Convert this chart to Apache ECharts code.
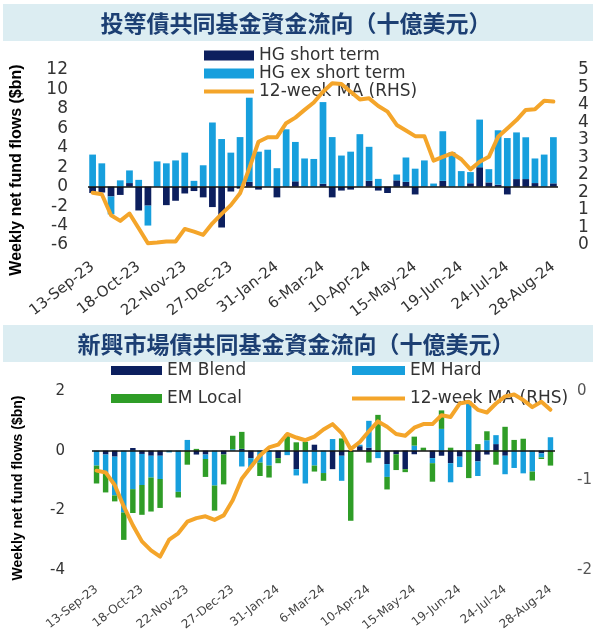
<!DOCTYPE html>
<html><head><meta charset="utf-8">
<script src="https://cdn.jsdelivr.net/npm/echarts@6/dist/echarts.min.js"></script>
<style>html,body{margin:0;padding:0;background:#fff}#c{width:606px;height:640px}</style>
</head><body><div id="c"></div>
<script>
// ---- data ----
const title1 = '投等債共同基金資金流向（十億美元）';
const title2 = '新興市場債共同基金資金流向（十億美元）';
const yName = 'Weekly net fund flows ($bn)';
const startWeek = '2023-09-13';
const weekCount = 51;

const hgShort = [-0.65,-0.6,-1.0,-0.85,0.37,-2.45,-1.95,0,-1.9,-1.45,-0.7,-0.45,-1.1,-2.1,-4.2,-0.5,-0.2,0.5,-0.3,0,-1.1,0,0.55,0,0,0.3,-1.1,-0.4,-0.3,0,0.6,-0.4,-0.65,0.65,0.5,-0.8,0,0,0.6,0,0,0.35,2.0,0.44,0.2,-0.8,0.78,0.78,0.37,0,0.34];
const hgEx = [3.3,2.4,-1.85,0.65,1.3,0.7,-2.05,2.6,2.4,2.7,3.5,0.6,2.2,6.6,4.9,3.5,5.1,8.65,3.6,3.8,1.9,5.9,4.05,2.9,2.85,8.4,5.1,3.2,3.6,5.4,3.5,0.8,0,0.6,2.5,1.85,2.7,0.32,5.1,3.55,1.6,1.15,4.9,1.36,5.6,5.0,4.8,4.3,2.53,3.3,4.75];
const hgMA = [1.49,1.45,0.85,0.69,0.9,0.48,0.05,0.07,0.1,0.1,0.46,0.38,0.29,0.62,0.89,1.14,1.48,2.19,2.95,3.08,3.08,3.48,3.64,3.86,4.07,4.38,4.62,4.6,4.38,4.16,4.19,3.97,3.81,3.43,3.27,3.11,3.11,2.41,2.52,2.62,2.45,2.16,2.38,2.52,3.09,3.33,3.57,3.86,3.88,4.12,4.1];

const emBlend = [0,-0.13,-0.2,0,0.09,-0.11,-0.17,-0.17,0,0,0,-0.13,-0.13,0,-0.13,0,0.06,-0.25,0,0,-0.25,0,-0.62,0,0.2,0,-0.62,-0.17,0,0.15,0.1,-0.05,-0.45,-0.12,-0.62,-0.12,0,-0.25,-0.17,-0.42,-0.2,0,-0.36,-0.13,0.22,-0.17,0,0,0,-0.09,0];
const emHard = [-0.5,-0.65,-1.3,-2.07,-1.29,-1.04,-0.73,-0.78,-0.06,-1.38,0.36,0,-0.15,-1.17,0,0.05,-0.53,-0.3,-0.4,-0.5,0,-0.15,-0.21,-1.1,-0.5,-0.75,0.39,-0.84,0,0.05,0.9,-0.2,-0.43,0,0,0.17,0,-0.17,0.73,-0.64,-0.35,1.62,-0.49,0.35,0.3,-0.62,-0.58,-0.76,-0.7,-0.14,0.45];
const emLocal = [-0.6,-0.62,-0.2,-0.92,-0.8,-1.0,-1.14,-0.97,0,-0.19,-0.47,0.06,-0.6,-0.84,-1.0,0.45,0.57,0,-0.45,-0.4,-0.17,0.55,0.28,0.3,-0.2,-0.26,0,0.41,-2.35,0,-0.4,1.2,-0.42,-0.53,-0.1,0.3,0.1,-0.62,0.62,0.1,0,-0.92,0.22,0.3,-0.47,0.8,0.36,0.4,-0.3,-0.05,-0.5];
const emMA = [-0.89,-0.91,-1.05,-1.29,-1.5,-1.68,-1.78,-1.85,-1.66,-1.59,-1.46,-1.42,-1.4,-1.44,-1.39,-1.22,-0.98,-0.85,-0.72,-0.63,-0.6,-0.48,-0.52,-0.55,-0.51,-0.43,-0.37,-0.47,-0.65,-0.57,-0.45,-0.34,-0.4,-0.48,-0.5,-0.41,-0.37,-0.37,-0.27,-0.29,-0.14,-0.12,-0.21,-0.24,-0.14,-0.06,-0.04,-0.1,-0.18,-0.12,-0.21];

// weekly category labels
const MON = ['Jan','Feb','Mar','Apr','May','Jun','Jul','Aug','Sep','Oct','Nov','Dec'];
const weeks = [];
{
  const d0 = new Date(startWeek + 'T00:00:00Z');
  for (let i = 0; i < weekCount; i++) {
    const d = new Date(d0.getTime() + i * 7 * 86400000);
    weeks.push(d.getUTCDate() + '-' + MON[d.getUTCMonth()] + '-' + String(d.getUTCFullYear()).slice(2));
  }
}

// ---- style ----
const NAVY = '#0c1f5e', LBLUE = '#179fdd', GREEN = '#2f9d27', ORANGE = '#f4a52a';
const FONT = 'DejaVu Sans';
const zeroLine = {silent:true, symbol:['none','none'], label:{show:false}, lineStyle:{color:'#111', width:1.5, type:'solid'}, data:[{yAxis:0}], emphasis:{disabled:true}};
const lineIcon = 'path://M0,0H50V4H0Z';
const MA_TOP = '12-week MA (RHS)';
const MA_BOT = '12-week MA (RHS) ';

const chart = echarts.init(document.getElementById('c'), null, {renderer:'canvas'});
chart.setOption({
  animation:false,
  textStyle:{fontFamily:FONT},
  grid:[
    {left:88, right:48, top:70, height:175},
    {left:92, right:51, top:391, height:179}
  ],
  xAxis:[
    {type:'category', gridIndex:0, data:weeks, axisLine:{show:false}, axisTick:{show:false},
     axisLabel:{interval:4, rotate:38, fontSize:15, color:'#333', margin:20, fontFamily:FONT}},
    {type:'category', gridIndex:1, data:weeks, axisLine:{show:false}, axisTick:{show:false},
     axisLabel:{interval:4, rotate:38, fontSize:12, color:'#444', margin:18, fontFamily:FONT}}
  ],
  yAxis:[
    {type:'value', gridIndex:0, min:-6, max:12, interval:2, splitLine:{show:false}, axisLine:{show:false}, axisTick:{show:false},
     axisLabel:{fontSize:17, color:'#333', margin:20}},
    {type:'value', gridIndex:0, position:'right', min:0, max:5, interval:0.5, splitLine:{show:false}, axisLine:{show:false}, axisTick:{show:false},
     axisLabel:{fontSize:17, color:'#333', margin:20, formatter:v=>String(Math.round(v))}},
    {type:'value', gridIndex:1, min:-4, max:2, interval:2, splitLine:{show:false}, axisLine:{show:false}, axisTick:{show:false},
     axisLabel:{fontSize:15, color:'#333', margin:27}},
    {type:'value', gridIndex:1, position:'right', min:-2, max:0, interval:1, splitLine:{show:false}, axisLine:{show:false}, axisTick:{show:false},
     axisLabel:{fontSize:15, color:'#555', margin:22}}
  ],
  legend:[
    {orient:'vertical', left:199, top:42, itemWidth:50, itemHeight:10, itemGap:1,
     textStyle:{fontSize:17, color:'#333', fontFamily:FONT},
     data:[{name:'HG short term', icon:'rect'},{name:'HG ex short term', icon:'rect'},{name:MA_TOP, icon:lineIcon}]},
    {orient:'vertical', left:106, top:357, itemWidth:51, itemHeight:9, itemGap:11,
     textStyle:{fontSize:17, color:'#333', fontFamily:FONT},
     data:[{name:'EM Blend', icon:'rect'},{name:'EM Local', icon:'rect'}]},
    {orient:'vertical', left:347, top:357, itemWidth:53, itemHeight:9, itemGap:11,
     textStyle:{fontSize:17, color:'#333', fontFamily:FONT},
     formatter:n=>n.trim(),
     data:[{name:'EM Hard', icon:'rect'},{name:MA_BOT, icon:lineIcon}]}
  ],
  series:[
    {name:'HG short term', type:'bar', stack:'hg', xAxisIndex:0, yAxisIndex:0, data:hgShort, itemStyle:{color:NAVY}, barCategoryGap:'27%'},
    {name:'HG ex short term', type:'bar', stack:'hg', xAxisIndex:0, yAxisIndex:0, data:hgEx, itemStyle:{color:LBLUE}, barCategoryGap:'27%', markLine:zeroLine},
    {name:MA_TOP, type:'line', xAxisIndex:0, yAxisIndex:1, data:hgMA, symbol:'none', z:6,
     lineStyle:{color:ORANGE, width:4, join:'round', cap:'round'}, itemStyle:{color:ORANGE}},
    {name:'EM Blend', type:'bar', stack:'em', xAxisIndex:1, yAxisIndex:2, data:emBlend, itemStyle:{color:NAVY}, barCategoryGap:'40%'},
    {name:'EM Hard', type:'bar', stack:'em', xAxisIndex:1, yAxisIndex:2, data:emHard, itemStyle:{color:LBLUE}, barCategoryGap:'40%'},
    {name:'EM Local', type:'bar', stack:'em', xAxisIndex:1, yAxisIndex:2, data:emLocal, itemStyle:{color:GREEN}, barCategoryGap:'40%', markLine:zeroLine},
    {name:MA_BOT, type:'line', xAxisIndex:1, yAxisIndex:3, data:emMA, symbol:'none', z:6,
     lineStyle:{color:ORANGE, width:4, join:'round', cap:'round'}, itemStyle:{color:ORANGE}}
  ],
  graphic:[
    {type:'rect', silent:true, z:-1, shape:{x:3, y:4, width:590, height:37}, style:{fill:'#dcedf2'}},
    {type:'text', silent:true, x:296, y:23, style:{text:title1, fill:'#1c3f73', font:'bold 23px "Noto Sans CJK TC"', align:'center', verticalAlign:'middle'}},
    {type:'rect', silent:true, z:-1, shape:{x:3, y:325, width:590, height:37}, style:{fill:'#dcedf2'}},
    {type:'text', silent:true, x:296, y:344, style:{text:title2, fill:'#1c3f73', font:'bold 23px "Noto Sans CJK TC"', align:'center', verticalAlign:'middle'}},
    {type:'text', silent:true, x:17, y:170, rotation:Math.PI/2, style:{text:yName, fill:'#000', font:'bold 16px "Liberation Sans"', align:'center', verticalAlign:'middle'}},
    {type:'text', silent:true, x:18, y:488, rotation:Math.PI/2, style:{text:yName, fill:'#000', font:'bold 14px "Liberation Sans"', align:'center', verticalAlign:'middle'}}
  ]
});
</script></body></html>
